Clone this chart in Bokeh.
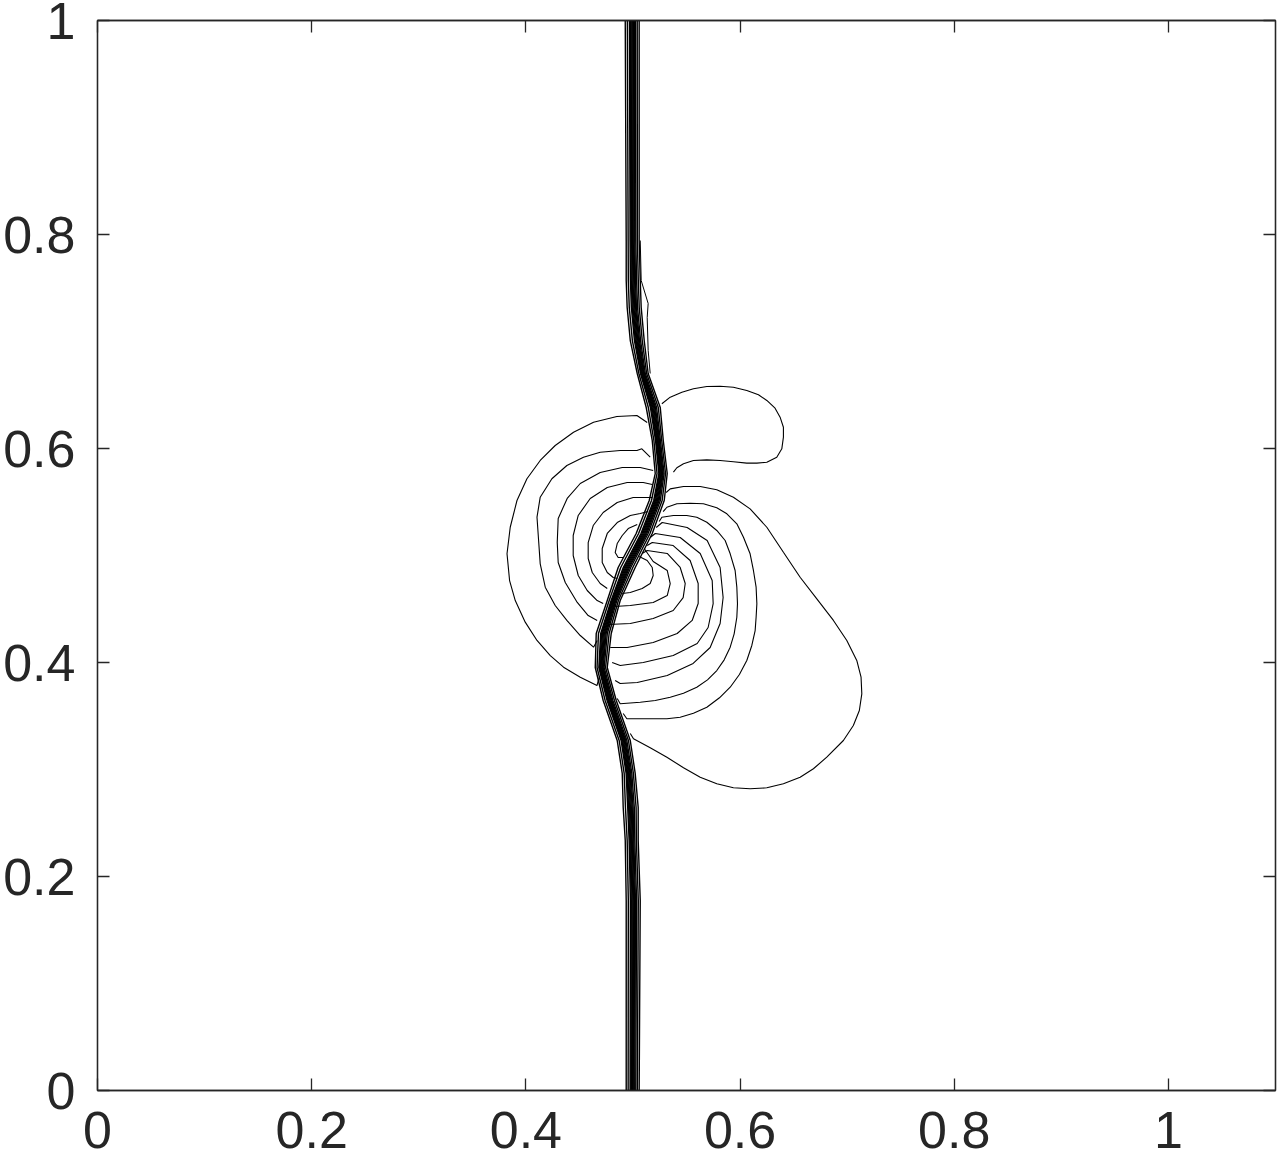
from bokeh.plotting import figure
from bokeh.models import Range1d, LinearAxis, FixedTicker, NumeralTickFormatter
from bokeh.embed import file_html
from bokeh.resources import INLINE

# ---------------- data (data units) ----------------
ticks = [0, 0.2, 0.4, 0.6, 0.8, 1.0]

# Shock front: a bundle of contour lines; heights with the left / right edge of the bundle
shock_y = [1.0, 0.7944, 0.7570, 0.7318, 0.7009, 0.6701, 0.6383, 0.6075, 0.5766, 0.5514,
           0.5206, 0.4888, 0.4579, 0.4271, 0.3953, 0.3645, 0.3271, 0.2963, 0.2645, 0.2336,
           0.1776, 0.0]
shock_left = [0.4928, 0.4937, 0.4937, 0.4946, 0.4975, 0.5040, 0.5124, 0.5180, 0.5208, 0.5152,
              0.5030, 0.4862, 0.4760, 0.4657, 0.4648, 0.4722, 0.4853, 0.4900, 0.4909, 0.4928,
              0.4937, 0.4937]
shock_right = [0.5058, 0.5058, 0.5068, 0.5077, 0.5105, 0.5142, 0.5255, 0.5283, 0.5320, 0.5292,
               0.5180, 0.5021, 0.4881, 0.4797, 0.4760, 0.4844, 0.4975, 0.5021, 0.5049, 0.5049,
               0.5068, 0.5058]
# relative position of each line across the bundle
shock_line_fraction = [0.0, 0.15, 0.30, 0.36, 0.42, 0.48, 0.54, 0.60, 0.66, 0.74, 0.86, 1.0]

# outer wiggle of the shock bundle above the vortex
wiggle_x = [0.5068, 0.5077, 0.5142, 0.5133, 0.5142, 0.5161]
wiggle_y = [0.7944, 0.7570, 0.7355, 0.7224, 0.6916, 0.6701]

# vortex contours on the upstream (left) side of the shock
left_x = [
    [0.5133, 0.5037, 0.4850, 0.4632, 0.4445, 0.4274, 0.4134, 0.4010, 0.3917, 0.3854, 0.3824,
     0.3848, 0.3901, 0.3994, 0.4104, 0.4228, 0.4352, 0.4508, 0.4664, 0.4685],
    [0.5161, 0.5083, 0.5037, 0.4881, 0.4694, 0.4538, 0.4383, 0.4243, 0.4134, 0.4104, 0.4119,
     0.4134, 0.4181, 0.4274, 0.4383, 0.4508, 0.4632, 0.4666],
    [0.5189, 0.5068, 0.4900, 0.4694, 0.4508, 0.4386, 0.4302, 0.4293, 0.4302, 0.4368, 0.4480,
     0.4582, 0.4666],
    [0.5180, 0.5096, 0.4946, 0.4760, 0.4601, 0.4489, 0.4442, 0.4442, 0.4489, 0.4573, 0.4666,
     0.4722],
    [0.5180, 0.5133, 0.5002, 0.4853, 0.4722, 0.4629, 0.4582, 0.4582, 0.4620, 0.4694, 0.4760],
    [0.5142, 0.5068, 0.4975, 0.4853, 0.4760, 0.4713, 0.4713, 0.4760, 0.4816, 0.4853],
    [0.5040, 0.4956, 0.4900, 0.4853, 0.4834, 0.4862, 0.4909],
]
left_y = [
    [0.6243, 0.6308, 0.6299, 0.6246, 0.6152, 0.6028, 0.5888, 0.5717, 0.5514, 0.5264, 0.5016,
     0.4766, 0.4579, 0.4377, 0.4206, 0.4065, 0.3956, 0.3863, 0.3785, 0.3860],
    [0.5919, 0.5997, 0.5981, 0.5981, 0.5965, 0.5919, 0.5841, 0.5717, 0.5545, 0.5358, 0.5140,
     0.4922, 0.4704, 0.4533, 0.4393, 0.4252, 0.4143, 0.4206],
    [0.5794, 0.5822, 0.5822, 0.5776, 0.5673, 0.5533, 0.5346, 0.5121, 0.4935, 0.4748, 0.4561,
     0.4439, 0.4393],
    [0.5664, 0.5682, 0.5682, 0.5636, 0.5533, 0.5374, 0.5187, 0.5000, 0.4813, 0.4673, 0.4579,
     0.4551],
    [0.5542, 0.5542, 0.5542, 0.5495, 0.5402, 0.5280, 0.5121, 0.4972, 0.4841, 0.4738, 0.4692],
    [0.5411, 0.5393, 0.5374, 0.5308, 0.5206, 0.5065, 0.4935, 0.4841, 0.4794, 0.4785],
    [0.5290, 0.5252, 0.5187, 0.5112, 0.5028, 0.4981, 0.4981],
]

# vortex contours on the downstream (right) side of the shock
right_x = [
    [0.5282, 0.5317, 0.5410, 0.5534, 0.5658, 0.5783, 0.5877, 0.5970, 0.6032, 0.6094, 0.6125,
     0.6150, 0.6157, 0.6150, 0.6141, 0.6110, 0.6063, 0.5994, 0.5908, 0.5808, 0.5690, 0.5565,
     0.5441, 0.5317, 0.5192, 0.4943, 0.4909],
    [0.5245, 0.5270, 0.5378, 0.5502, 0.5596, 0.5690, 0.5783, 0.5861, 0.5908, 0.5954, 0.5970,
     0.5976, 0.5970, 0.5945, 0.5908, 0.5852, 0.5783, 0.5696, 0.5596, 0.5472, 0.5348, 0.5208,
     0.5068, 0.4881, 0.4853],
    [0.5217, 0.5273, 0.5506, 0.5693, 0.5814, 0.5842, 0.5814, 0.5721, 0.5562, 0.5320, 0.5040, 0.4881, 0.4834],
    [0.5161, 0.5208, 0.5441, 0.5628, 0.5740, 0.5749, 0.5702, 0.5600, 0.5376, 0.5096, 0.4881, 0.4806],
    [0.5133, 0.5180, 0.5376, 0.5534, 0.5609, 0.5609, 0.5553, 0.5413, 0.5189, 0.4946, 0.4788],
    [0.5086, 0.5133, 0.5320, 0.5441, 0.5488, 0.5469, 0.5376, 0.5189, 0.4975, 0.4769],
    [0.5105, 0.5189, 0.5320, 0.5348, 0.5320, 0.5189, 0.4975, 0.4825],
    [0.5058, 0.5133, 0.5180, 0.5189, 0.5161, 0.5086, 0.4975, 0.4900],
]
right_y = [
    [0.5411, 0.5451, 0.5483, 0.5489, 0.5483, 0.5446, 0.5390, 0.5296, 0.5171, 0.5016, 0.4860,
     0.4704, 0.4549, 0.4423, 0.4299, 0.4159, 0.4019, 0.3888, 0.3769, 0.3670, 0.3582, 0.3526,
     0.3489, 0.3474, 0.3474, 0.3474, 0.3523],
    [0.5318, 0.5358, 0.5374, 0.5374, 0.5358, 0.5311, 0.5234, 0.5140, 0.5016, 0.4860, 0.4704,
     0.4549, 0.4423, 0.4268, 0.4143, 0.4025, 0.3925, 0.3838, 0.3769, 0.3713, 0.3676, 0.3645,
     0.3629, 0.3614, 0.3664],
    [0.5262, 0.5308, 0.5262, 0.5140, 0.4888, 0.4607, 0.4364, 0.4140, 0.3991, 0.3879, 0.3813, 0.3804, 0.3832],
    [0.5168, 0.5206, 0.5168, 0.5019, 0.4766, 0.4551, 0.4327, 0.4178, 0.4065, 0.4000, 0.3972, 0.4000],
    [0.5093, 0.5121, 0.5093, 0.4953, 0.4738, 0.4551, 0.4393, 0.4271, 0.4187, 0.4140, 0.4140],
    [0.5019, 0.5047, 0.5019, 0.4888, 0.4738, 0.4607, 0.4486, 0.4411, 0.4364, 0.4355],
    [0.5065, 0.4944, 0.4860, 0.4738, 0.4626, 0.4561, 0.4533, 0.4523],
    [0.4991, 0.4953, 0.4888, 0.4813, 0.4738, 0.4692, 0.4654, 0.4645],
]

# upper lobe behind the shock
upper_lobe_x = [0.5270, 0.5348, 0.5457, 0.5565, 0.5690, 0.5814, 0.5938, 0.6063, 0.6172, 0.6250,
                0.6327, 0.6374, 0.6405, 0.6405, 0.6390, 0.6343, 0.6250, 0.6157, 0.6063, 0.5938,
                0.5814, 0.5690, 0.5565, 0.5472, 0.5410, 0.5378]
upper_lobe_y = [0.6418, 0.6480, 0.6526, 0.6558, 0.6579, 0.6582, 0.6573, 0.6542, 0.6502, 0.6449,
                0.6377, 0.6293, 0.6199, 0.6106, 0.5997, 0.5919, 0.5872, 0.5863, 0.5863, 0.5876,
                0.5888, 0.5894, 0.5888, 0.5857, 0.5820, 0.5779]

# large lower lobe behind the shock
lower_lobe_x = [0.5310, 0.5348, 0.5472, 0.5628, 0.5783, 0.5938, 0.6094, 0.6250, 0.6405, 0.6561,
                0.6717, 0.6872, 0.6997, 0.7090, 0.7130, 0.7137, 0.7114, 0.7058, 0.6965, 0.6810,
                0.6685, 0.6561, 0.6405, 0.6250, 0.6094, 0.5938, 0.5783, 0.5628, 0.5472, 0.5317,
                0.5161, 0.5005, 0.4975]
lower_lobe_y = [0.5589, 0.5623, 0.5645, 0.5645, 0.5614, 0.5545, 0.5436, 0.5264, 0.5031, 0.4797,
                0.4595, 0.4393, 0.4206, 0.4019, 0.3863, 0.3707, 0.3551, 0.3411, 0.3271, 0.3115,
                0.3007, 0.2928, 0.2866, 0.2829, 0.2820, 0.2829, 0.2866, 0.2928, 0.3016, 0.3115,
                0.3203, 0.3287, 0.3336]

# ---------------- figure ----------------
AX = "#262626"
FONT = "Liberation Sans"

p = figure(width=1278, height=1172, x_range=Range1d(0, 1.1), y_range=Range1d(0, 1),
           output_backend="svg", toolbar_location=None,
           min_border_left=97, min_border_top=20, min_border_right=3, min_border_bottom=82)
p.grid.visible = False
p.outline_line_color = AX
p.outline_line_width = 1.3

shock_xs = []
shock_ys = []
for f in shock_line_fraction:
    shock_xs.append([l + f * (r - l) for l, r in zip(shock_left, shock_right)])
    shock_ys.append(list(shock_y))

p.multi_line(shock_xs, shock_ys, line_color="black", line_width=1.4)
p.line(wiggle_x, wiggle_y, line_color="black", line_width=1)
p.multi_line(left_x, left_y, line_color="black", line_width=1.1)
p.multi_line(right_x, right_y, line_color="black", line_width=1.1)
p.line(upper_lobe_x, upper_lobe_y, line_color="black", line_width=1.1)
p.line(lower_lobe_x, lower_lobe_y, line_color="black", line_width=1.1)


def style(axis, labels=True, standoff=16):
    axis.ticker = FixedTicker(ticks=ticks)
    axis.formatter = NumeralTickFormatter(format="0.[0]")
    axis.axis_line_color = AX
    axis.axis_line_width = 1.3
    axis.major_tick_line_color = AX
    axis.major_tick_line_width = 1.3
    axis.major_tick_in = 12
    axis.major_tick_out = 0
    axis.minor_tick_line_color = None
    axis.major_label_text_font = FONT
    if labels:
        axis.major_label_text_color = AX
        axis.major_label_text_font_size = "52px"
        axis.major_label_standoff = standoff
    else:
        axis.major_label_text_color = None
        axis.major_label_text_font_size = "1px"
        axis.major_label_standoff = 0


style(p.xaxis[0], True, 21)
style(p.yaxis[0], True, 22)
top = LinearAxis()
right = LinearAxis()
style(top, False)
style(right, False)
p.add_layout(top, "above")
p.add_layout(right, "right")

open("out.html", "w").write(file_html(p, INLINE))
